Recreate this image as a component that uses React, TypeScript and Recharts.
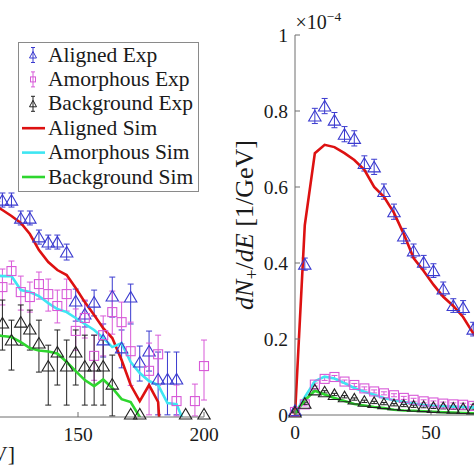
import React from 'react';
import { ComposedChart, Scatter, Line, XAxis, YAxis, ErrorBar, Legend, Label } from 'recharts';

const FONT = "'Liberation Serif', 'Times New Roman', serif";
const AXIS = '#6e6e6e';
const TXT = '#1a1a1a';
const BLUE = '#3a3acf';
const MAGENTA = '#d85ad8';
const BLACK = '#222222';
const RED = '#dd1111';
const CYAN = '#3ee6f2';
const GREEN = '#2ed62e';

// ---------- series names ----------
const seriesNames = ['Aligned Exp', 'Amorphous Exp', 'Background Exp', 'Aligned Sim', 'Amorphous Sim', 'Background Sim'];

// ---------- left panel (log y, high-energy tail; values in 1e-6 /GeV) ----------
const leftBins = [116.4, 120, 123.6, 127.3, 130.9, 134.5, 138.2, 141.8, 145.5, 149.1, 152.7, 156.4, 160, 163.6, 167.3, 170.9, 174.5, 178.2, 181.8, 185.5, 189.1, 192.7, 196.4, 200];
const leftXTicks = [0, 50, 100, 150, 200];
const leftYMajor = [0.1, 1, 10, 100];
const leftYMinor = [0.02, 0.03, 0.04, 0.05, 0.06, 0.07, 0.08, 0.09, 0.2, 0.3, 0.4, 0.5, 0.6, 0.7, 0.8, 0.9, 2, 3, 4, 5, 6, 7, 8, 9, 20, 30, 40, 50, 60, 70, 80, 90];

const alignedExpL = [3.0, 2.74, 2.74, 1.82, 1.82, 1.19, 1.06, 1.06, 0.844, 0.278, 0.207, 0.271, 0.115, 0.311, 0.096, 0.304, 0.0696, 0.0893, 0.0473, 0.0473, 0.0473, null, null, null];
const alignedLoL = [2.6, 2.34, 2.34, 1.56, 1.56, 1.01, 0.903, 0.903, 0.704, 0.176, 0.154, 0.198, 0.078, 0.193, 0.061, 0.165, 0.0452, 0.0567, 0.021, 0.021, 0.021, null, null, null];
const alignedHiL = [3.5, 3.22, 3.22, 2.14, 2.14, 1.39, 1.24, 1.24, 1.01, 0.364, 0.278, 0.356, 0.165, 0.478, 0.144, 0.408, 0.1, 0.1405, 0.0873, 0.0873, 0.0873, null, null, null];

const amorphExpL = [0.45, 0.381, 0.548, 0.34, 0.304, 0.408, 0.325, 0.248, 0.325, 0.141, 0.189, 0.08, 0.128, 0.216, 0.172, 0.089, null, 0.057, 0.083, null, 0.0287, null, 0.0287, 0.0635];
const amorphLoL = [0.32, 0.254, 0.408, 0.226, 0.216, 0.29, 0.221, 0.169, 0.221, 0.091, 0.12, 0.046, 0.08, 0.131, 0.105, 0.041, null, 0.021, 0.041, null, 0.0205, null, 0.0205, 0.0294];
const amorphHiL = [0.62, 0.574, 0.688, 0.489, 0.427, 0.536, 0.457, 0.356, 0.457, 0.232, 0.284, 0.128, 0.198, 0.348, 0.271, 0.172, null, 0.107, 0.128, null, 0.0413, null, 0.0422, 0.1146];

const bgExpL = [0.2, 0.1685, 0.1146, 0.172, 0.147, 0.107, 0.0635, 0.0873, 0.0635, 0.0873, 0.0635, 0.0635, 0.0635, 0.0422, null, 0.0214, 0.0214, null, null, null, null, 0.0214, null, 0.0214];
const bgLoL = [0.12, 0.0913, 0.058, 0.102, 0.0913, 0.0554, 0.0262, 0.0413, 0.0262, 0.0413, 0.0262, 0.0262, 0.0262, 0.0205, null, null, null, null, null, null, null, null, null, null];
const bgHiL = [0.3, 0.284, 0.18, 0.254, 0.226, 0.18, 0.102, 0.144, 0.1146, 0.144, 0.128, 0.128, 0.1146, 0.0815, null, null, null, null, null, null, null, null, null, null];

const redSimL = [2.5, 2.19, 1.91, 1.63, 1.27, 0.883, 0.672, 0.561, 0.501, 0.373, 0.271, 0.202, 0.15, 0.12, 0.0728, 0.0413, 0.0287, 0.0413, 0.0281, 0.001, null, null, null, null];
const cyanSimL = [0.5, 0.489, 0.489, 0.356, 0.34, 0.311, 0.265, 0.2315, 0.216, 0.189, 0.165, 0.144, 0.12, 0.0977, 0.107, 0.0696, 0.0542, 0.0452, 0.0413, 0.0274, 0.0268, 0.0163, null, null];
const greenSimL = [0.13, 0.1255, 0.1227, 0.1095, 0.0956, 0.0903, 0.0883, 0.0844, 0.0696, 0.0567, 0.0462, 0.0403, 0.0468, 0.0386, 0.03, 0.0281, 0.02, 0.001, null, null, null, null, null, null];

// ---------- right panel (linear y, values in 1e-4 /GeV) ----------
const rightBins = [0, 3.6, 7.3, 10.9, 14.5, 18.2, 21.8, 25.5, 29.1, 32.7, 36.4, 40, 43.6, 47.3, 50.9, 54.5, 58.2, 61.8, 65.5, 69.1];
const rightXTicks = [0, 50, 100, 150, 200];
const rightYTicks = [0, 0.2, 0.4, 0.6, 0.8, 1];

const alignedExpR = [0.012, 0.397, 0.787, 0.813, 0.776, 0.739, 0.728, 0.662, 0.653, 0.588, 0.535, 0.471, 0.432, 0.402, 0.38, 0.332, 0.288, 0.283, 0.226, 0.205];
const alignedErrR = [0.004, 0.016, 0.02, 0.02, 0.02, 0.02, 0.02, 0.02, 0.02, 0.02, 0.02, 0.02, 0.018, 0.018, 0.018, 0.018, 0.018, 0.018, 0.018, 0.018];
const amorphExpR = [0.008, 0.028, 0.08, 0.095, 0.1, 0.088, 0.079, 0.07, 0.062, 0.057, 0.052, 0.045, 0.04, 0.036, 0.033, 0.03, 0.028, 0.027, 0.024, 0.023];
const amorphErrR = [0.003, 0.004, 0.004, 0.004, 0.004, 0.004, 0.004, 0.004, 0.004, 0.004, 0.004, 0.004, 0.004, 0.004, 0.004, 0.004, 0.004, 0.004, 0.004, 0.004];
const bgExpR = [0.008, 0.031, 0.066, 0.061, 0.054, 0.048, 0.042, 0.036, 0.033, 0.03, 0.027, 0.025, 0.023, 0.022, 0.02, 0.019, 0.018, 0.017, 0.016, 0.015];
const bgErrR = [0.002, 0.003, 0.003, 0.003, 0.003, 0.003, 0.003, 0.003, 0.003, 0.003, 0.003, 0.003, 0.003, 0.003, 0.003, 0.003, 0.003, 0.003, 0.003, 0.003];
const redSimR = [0, 0.5, 0.689, 0.711, 0.705, 0.689, 0.671, 0.645, 0.6, 0.574, 0.532, 0.476, 0.413, 0.379, 0.343, 0.311, 0.287, 0.258, 0.215, 0.19];
const cyanSimR = [0.005, 0.047, 0.089, 0.101, 0.096, 0.084, 0.071, 0.061, 0.053, 0.045, 0.039, 0.034, 0.03, 0.026, 0.024, 0.023, 0.022, 0.021, 0.02, 0.0195];
const greenSimR = [0.004, 0.039, 0.064, 0.054, 0.045, 0.037, 0.029, 0.025, 0.021, 0.018, 0.014, 0.012, 0.011, 0.0097, 0.0084, 0.0074, 0.0063, 0.0053, 0.0045, 0.004];

// ---------- helpers building series tables ----------
type P = { E: number; v: number; err?: [number, number] };
function rangeSeries(bins: number[], vals: (number | null)[], lo: (number | null)[], hi: (number | null)[]): P[] {
  const out: P[] = [];
  bins.forEach((E, i) => {
    const v = vals[i];
    if (v == null) return;
    const l = lo[i];
    const h = hi[i];
    out.push(l == null || h == null ? { E, v } : { E, v, err: [v - l, h - v] });
  });
  return out;
}
function errSeries(bins: number[], vals: number[], err: number[]): P[] {
  return bins.map((E, i) => ({ E, v: vals[i], err: [err[i], err[i]] as [number, number] }));
}
function lineSeries(bins: number[], vals: (number | null)[]): P[] {
  const out: P[] = [];
  bins.forEach((E, i) => {
    const v = vals[i];
    if (v != null) out.push({ E, v });
  });
  return out;
}

const aL = rangeSeries(leftBins, alignedExpL, alignedLoL, alignedHiL);
const mL = rangeSeries(leftBins, amorphExpL, amorphLoL, amorphHiL);
const bL = rangeSeries(leftBins, bgExpL, bgLoL, bgHiL);
const rL = lineSeries(leftBins, redSimL);
const cL = lineSeries(leftBins, cyanSimL);
const gL = lineSeries(leftBins, greenSimL);

const aR = errSeries(rightBins, alignedExpR, alignedErrR);
const mR = errSeries(rightBins, amorphExpR, amorphErrR);
const bR = errSeries(rightBins, bgExpR, bgErrR);
const rR = lineSeries(rightBins, redSimR);
const cR = lineSeries(rightBins, cyanSimR);
const gR = lineSeries(rightBins, greenSimR);

// ---------- marker shapes ----------
const triangle = (color: string) => (p: any) => {
  const { cx, cy } = p;
  if (cx == null || cy == null || isNaN(cx) || isNaN(cy)) return <g />;
  return (
    <polygon
      points={`${cx},${cy - 5.6} ${cx - 6.2},${cy + 5} ${cx + 6.2},${cy + 5}`}
      fill="none"
      stroke={color}
      strokeWidth={1.1}
    />
  );
};
const square = (color: string) => (p: any) => {
  const { cx, cy } = p;
  if (cx == null || cy == null || isNaN(cx) || isNaN(cy)) return <g />;
  return <rect x={cx - 4.5} y={cy - 4.5} width={9} height={9} fill="none" stroke={color} strokeWidth={1.1} />;
};

// ---------- tick label renderers ----------
const xTick = (props: any) => {
  const { x, y, payload } = props;
  return (
    <text x={x} y={y} dy="0.72em" textAnchor="middle" style={{ fontFamily: FONT }} fontSize={19.5} fill={TXT}>
      {String(payload.value)}
    </text>
  );
};
const yTick = (props: any) => {
  const { x, y, payload } = props;
  return (
    <text x={x} y={y} dy="0.34em" textAnchor="end" style={{ fontFamily: FONT }} fontSize={19.5} fill={TXT}>
      {String(payload.value)}
    </text>
  );
};

// ---------- legend ----------
const legendKinds = ['tri', 'sq', 'tri', 'line', 'line', 'line'];
const legendColors = [BLUE, MAGENTA, BLACK, RED, CYAN, GREEN];
const renderLegend = () => (
  <svg width={182} height={151} style={{ display: 'block' }}>
    <rect x={0.5} y={0.5} width={180} height={149} fill="#ffffff" stroke="#8a8a8a" strokeWidth={1} />
    {seriesNames.map((name, i) => {
      const base = 19.5 + 24.4 * i;
      const cy = base - 6.5;
      const color = legendColors[i];
      const kind = legendKinds[i];
      return (
        <g key={name}>
          {kind === 'line' ? (
            <line x1={4} x2={27} y1={cy} y2={cy} stroke={color} strokeWidth={2.6} />
          ) : (
            <g stroke={color} strokeWidth={1} fill="none">
              <line x1={15} x2={15} y1={cy - 7.5} y2={cy + 7.5} />
              <line x1={13} x2={17} y1={cy - 7.5} y2={cy - 7.5} />
              <line x1={13} x2={17} y1={cy + 7.5} y2={cy + 7.5} />
              {kind === 'tri' ? (
                <polygon points={`15,${cy - 3.5} 11.5,${cy + 3} 18.5,${cy + 3}`} />
              ) : (
                <rect x={12.5} y={cy - 2.5} width={5} height={5} />
              )}
            </g>
          )}
          <text x={30} y={base} style={{ fontFamily: FONT }} fontSize={21.5} fill={TXT}>
            {name}
          </text>
        </g>
      );
    })}
  </svg>
);

// ---------- label renderers ----------
const leftXLabel = (props: any) => {
  const vb = props.viewBox || { x: 96, y: 417 };
  return (
    <text x={vb.x + 315} y={vb.y + 44} textAnchor="end" style={{ fontFamily: FONT }} fontSize={22} fill={TXT}>
      <tspan fontStyle="italic">E</tspan>
      {'\u00a0[GeV]'}
    </text>
  );
};

const rightYLabel = (props: any) => {
  const vb = props.viewBox || { x: 40, y: 35, width: 60, height: 380 };
  const plotLeft = vb.x + vb.width;
  const cy = vb.y + vb.height / 2;
  const bx = plotLeft - 42.5;
  return (
    <g>
      <text transform={`translate(${bx},${cy}) rotate(-90)`} textAnchor="middle" style={{ fontFamily: FONT }} fontSize={26} fill={TXT}>
        <tspan fontStyle="italic">dN</tspan>
        <tspan fontSize={18} dy={5}>+</tspan>
        <tspan dy={-5}>/</tspan>
        <tspan fontStyle="italic">dE</tspan>
        <tspan>{'\u00a0[1/GeV]'}</tspan>
      </text>
      <text x={plotLeft + 0.5} y={vb.y - 5.7} style={{ fontFamily: FONT }} fontSize={20} fill={TXT}>
        ×10
        <tspan fontSize={13.5} dy={-8.6}>
          −4
        </tspan>
      </text>
    </g>
  );
};

const LEFT_X = -396;
const RIGHT_X = 195;

function LeftChart() {
  const logDomain: [number, number] = [0.02, 116];
  return (
    <ComposedChart width={640} height={474} margin={{ top: 35, right: 40, bottom: 27, left: 96 }}>
      <XAxis
        xAxisId="B"
        dataKey="E"
        type="number"
        domain={[0, 200]}
        ticks={leftXTicks}
        height={30}
        tickSize={-5}
        tickMargin={15}
        axisLine={{ stroke: AXIS }}
        tickLine={{ stroke: AXIS }}
        tick={xTick}
        label={<Label content={leftXLabel} />}
      />
      <XAxis
        xAxisId="T"
        orientation="top"
        type="number"
        domain={[0, 200]}
        ticks={leftXTicks}
        height={0}
        mirror
        tick={false}
        tickSize={5}
        allowDataOverflow
        axisLine={{ stroke: AXIS }}
        tickLine={{ stroke: AXIS }}
      />
      <YAxis yAxisId="S" hide type="number" scale="log" domain={logDomain} />
      <YAxis yAxisId="L" hide type="number" scale="log" domain={logDomain} allowDataOverflow />
      <YAxis
        yAxisId="RM"
        orientation="right"
        width={0}
        mirror
        type="number"
        scale="log"
        domain={logDomain}
        allowDataOverflow
        ticks={leftYMajor}
        tick={false}
        tickSize={6}
        axisLine={{ stroke: AXIS }}
        tickLine={{ stroke: AXIS }}
      />
      <YAxis
        yAxisId="Rm"
        orientation="right"
        width={0}
        mirror
        type="number"
        scale="log"
        domain={logDomain}
        allowDataOverflow
        ticks={leftYMinor}
        tick={false}
        tickSize={3}
        axisLine={false}
        tickLine={{ stroke: AXIS }}
      />
      <Scatter name={seriesNames[0]} xAxisId="B" yAxisId="S" data={aL} dataKey="v" shape={triangle(BLUE)} isAnimationActive={false}>
        <ErrorBar dataKey="err" direction="y" width={3} stroke={BLUE} strokeWidth={1} isAnimationActive={false} />
      </Scatter>
      <Scatter name={seriesNames[1]} xAxisId="B" yAxisId="S" data={mL} dataKey="v" shape={square(MAGENTA)} isAnimationActive={false}>
        <ErrorBar dataKey="err" direction="y" width={3} stroke={MAGENTA} strokeWidth={1} isAnimationActive={false} />
      </Scatter>
      <Scatter name={seriesNames[2]} xAxisId="B" yAxisId="S" data={bL} dataKey="v" shape={triangle(BLACK)} isAnimationActive={false}>
        <ErrorBar dataKey="err" direction="y" width={3} stroke={BLACK} strokeWidth={1} isAnimationActive={false} />
      </Scatter>
      <Line name={seriesNames[3]} xAxisId="B" yAxisId="L" data={rL} dataKey="v" type="linear" stroke={RED} strokeWidth={2.6} dot={false} isAnimationActive={false} />
      <Line name={seriesNames[4]} xAxisId="B" yAxisId="L" data={cL} dataKey="v" type="linear" stroke={CYAN} strokeWidth={2.6} dot={false} isAnimationActive={false} />
      <Line name={seriesNames[5]} xAxisId="B" yAxisId="L" data={gL} dataKey="v" type="linear" stroke={GREEN} strokeWidth={2.6} dot={false} isAnimationActive={false} />
      <Legend
        layout="vertical"
        align="center"
        verticalAlign="middle"
        content={renderLegend}
        wrapperStyle={{ left: 18 - LEFT_X, top: 42, width: 182, height: 151 }}
      />
    </ComposedChart>
  );
}

function RightChart() {
  return (
    <ComposedChart width={654} height={474} margin={{ top: 35, right: 10, bottom: 29, left: 40 }}>
      <XAxis
        xAxisId="B"
        dataKey="E"
        type="number"
        domain={[0, 200]}
        ticks={rightXTicks}
        height={30}
        tickSize={-5}
        tickMargin={15}
        axisLine={{ stroke: AXIS }}
        tickLine={{ stroke: AXIS }}
        tick={xTick}
      />
      <XAxis
        xAxisId="T"
        orientation="top"
        type="number"
        domain={[0, 200]}
        ticks={rightXTicks}
        height={0}
        mirror
        tick={false}
        tickSize={5}
        allowDataOverflow
        axisLine={{ stroke: AXIS }}
        tickLine={{ stroke: AXIS }}
      />
      <YAxis
        yAxisId="L"
        type="number"
        domain={[0, 1]}
        ticks={rightYTicks}
        width={60}
        tickSize={-5}
        tickMargin={12}
        axisLine={{ stroke: AXIS }}
        tickLine={{ stroke: AXIS }}
        tick={yTick}
        label={<Label content={rightYLabel} />}
      />
      <Scatter name={seriesNames[0]} xAxisId="B" yAxisId="L" data={aR} dataKey="v" shape={triangle(BLUE)} isAnimationActive={false}>
        <ErrorBar dataKey="err" direction="y" width={3} stroke={BLUE} strokeWidth={1} isAnimationActive={false} />
      </Scatter>
      <Scatter name={seriesNames[1]} xAxisId="B" yAxisId="L" data={mR} dataKey="v" shape={square(MAGENTA)} isAnimationActive={false}>
        <ErrorBar dataKey="err" direction="y" width={3} stroke={MAGENTA} strokeWidth={1} isAnimationActive={false} />
      </Scatter>
      <Scatter name={seriesNames[2]} xAxisId="B" yAxisId="L" data={bR} dataKey="v" shape={triangle(BLACK)} isAnimationActive={false}>
        <ErrorBar dataKey="err" direction="y" width={3} stroke={BLACK} strokeWidth={1} isAnimationActive={false} />
      </Scatter>
      <Line name={seriesNames[3]} xAxisId="B" yAxisId="L" data={rR} dataKey="v" type="linear" stroke={RED} strokeWidth={2.6} dot={false} isAnimationActive={false} />
      <Line name={seriesNames[4]} xAxisId="B" yAxisId="L" data={cR} dataKey="v" type="linear" stroke={CYAN} strokeWidth={2.6} dot={false} isAnimationActive={false} />
      <Line name={seriesNames[5]} xAxisId="B" yAxisId="L" data={gR} dataKey="v" type="linear" stroke={GREEN} strokeWidth={2.6} dot={false} isAnimationActive={false} />
    </ComposedChart>
  );
}

export default function App() {
  return (
    <div
      style={{
        position: 'fixed',
        left: 0,
        top: 0,
        width: 474,
        height: 474,
        overflow: 'hidden',
        background: '#ffffff',
        fontFamily: FONT,
      }}
    >
      <div style={{ position: 'absolute', left: LEFT_X, top: 0 }}>
        <LeftChart />
      </div>
      <div style={{ position: 'absolute', left: RIGHT_X, top: 0 }}>
        <RightChart />
      </div>
    </div>
  );
}
